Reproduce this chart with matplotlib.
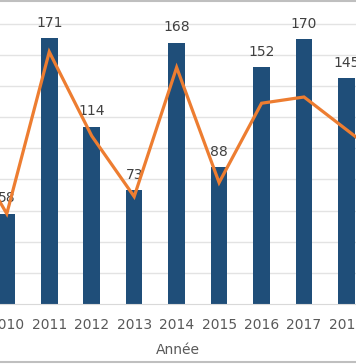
import matplotlib
matplotlib.use("Agg")
import matplotlib.pyplot as plt
from matplotlib.lines import Line2D

years = [2010, 2011, 2012, 2013, 2014, 2015, 2016, 2017, 2018]
counts = [58, 171, 114, 73, 168, 88, 152, 170, 145]
# orange trend line, runs past both cropped edges
line_years = [2009, 2010, 2011, 2012, 2013, 2014, 2015, 2016, 2017, 2018, 2019]
line_vals = [105, 58, 162, 108, 69, 152, 78, 129, 133, 112, 91]

plt.rcParams['font.family'] = ['DejaVu Sans']

fig = plt.figure(figsize=(3.56, 3.64), dpi=100)
ax = fig.add_axes([0, 60 / 364, 1, 301 / 364])

ax.bar(years, counts, width=0.39, color='#1f4e79', zorder=2)
ax.plot(line_years, line_vals, color='#ed7d31', lw=2.3, zorder=3,
        solid_joinstyle='miter')

for x, v in zip(years, counts):
    ax.annotate(str(v), (x, v), xytext=(0, 11), textcoords='offset points',
                ha='center', va='center', fontsize=10, color='#404040',
                zorder=1)

ax.set_xlim(2009.84, 2018.224)
ax.set_ylim(0, 193.4)
ax.set_yticks(range(20, 181, 20))
ax.yaxis.grid(True, color='#e3e3e3', lw=1)
ax.set_axisbelow(True)
ax.tick_params(axis='y', left=False, labelleft=False)
ax.set_xticks(years)
ax.set_xticklabels([str(y) for y in years])
ax.tick_params(axis='x', length=0, pad=10, labelsize=10, labelcolor='#595959')
for s in ['top', 'left', 'right']:
    ax.spines[s].set_visible(False)
ax.spines['bottom'].set_color('#d9d9d9')
ax.set_xlabel('Année', fontsize=10, color='#595959', labelpad=8)

# outer chart frame edges
fig.add_artist(Line2D([0, 1], [1 - 1.2 / 364, 1 - 1.2 / 364], color='#bfbfbf', lw=1.5))
fig.add_artist(Line2D([0, 1], [2 / 364, 2 / 364], color='#bfbfbf', lw=1.5))

fig.savefig('out.png', dpi=100)
